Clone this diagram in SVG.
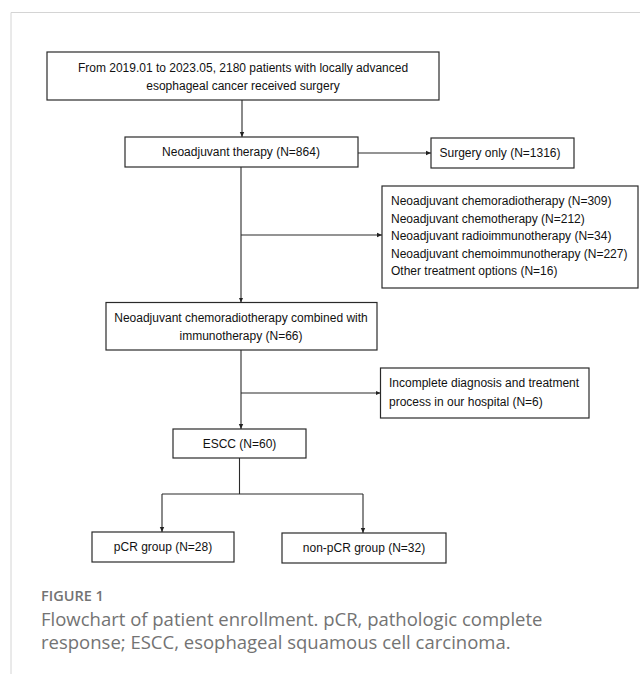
<svg xmlns="http://www.w3.org/2000/svg" width="640" height="674" viewBox="0 0 640 674">
<defs>
<marker id="ah" markerWidth="6" markerHeight="6" refX="5" refY="3" orient="auto" markerUnits="userSpaceOnUse">
<path d="M0,0.8 L5,3 L0,5.2 Z" fill="#222"/>
</marker>
<style>
.box{fill:#fff;stroke:#2a2a2a;stroke-width:1.2}
.t{font-family:"Liberation Sans",Arial,sans-serif;font-size:12px;fill:#111}
.c{text-anchor:middle}
.ln{stroke:#2a2a2a;stroke-width:1.1;fill:none}
.cap{font-family:"Open Sans",sans-serif;fill:#737373}
</style>
</defs>
<rect width="640" height="674" fill="#fff"/>
<path d="M11,674 V12.5 H640" fill="none" stroke="#d4d4d4" stroke-width="1"/>
<g id="connectors">
<line class="ln" x1="242" y1="100" x2="242" y2="137" marker-end="url(#ah)"/>
<line class="ln" x1="358" y1="153" x2="431" y2="153" marker-end="url(#ah)"/>
<line class="ln" x1="241" y1="167" x2="241" y2="302.5" marker-end="url(#ah)"/>
<line class="ln" x1="241" y1="235" x2="382" y2="235" marker-end="url(#ah)"/>
<line class="ln" x1="241" y1="350" x2="241" y2="429" marker-end="url(#ah)"/>
<line class="ln" x1="241" y1="393" x2="380.5" y2="393" marker-end="url(#ah)"/>
<path class="ln" d="M239.5,458 V494 M162,494 H363"/>
<line class="ln" x1="162" y1="494" x2="162" y2="532" marker-end="url(#ah)"/>
<line class="ln" x1="363" y1="494" x2="363" y2="533" marker-end="url(#ah)"/>
</g>
<g id="n1"><rect class="box" x="47" y="52" width="392" height="48"/>
<text class="t c" x="243" y="71.5">From 2019.01 to 2023.05, 2180 patients with locally advanced</text>
<text class="t c" x="243" y="90">esophageal cancer received surgery</text></g>
<g id="n2"><rect class="box" x="125" y="137" width="233" height="30"/>
<text class="t c" x="241" y="156.3">Neoadjuvant therapy (N=864)</text></g>
<g id="n3"><rect class="box" x="431" y="138" width="143" height="30"/>
<text class="t c" x="500" y="157.3">Surgery only (N=1316)</text></g>
<g id="n4"><rect class="box" x="382" y="186" width="256" height="102"/>
<text class="t" x="391" y="205.3">Neoadjuvant chemoradiotherapy (N=309)</text>
<text class="t" x="391" y="222.8">Neoadjuvant chemotherapy (N=212)</text>
<text class="t" x="391" y="240.3">Neoadjuvant radioimmunotherapy (N=34)</text>
<text class="t" x="391" y="257.8">Neoadjuvant chemoimmunotherapy (N=227)</text>
<text class="t" x="391" y="275.3">Other treatment options (N=16)</text></g>
<g id="n5"><rect class="box" x="106" y="302.5" width="271" height="47.5"/>
<text class="t c" x="241" y="322.3">Neoadjuvant chemoradiotherapy combined with</text>
<text class="t c" x="241" y="339.5">immunotherapy (N=66)</text></g>
<g id="n6"><rect class="box" x="380.5" y="368" width="208.5" height="50"/>
<text class="t" x="389" y="386.5">Incomplete diagnosis and treatment</text>
<text class="t" x="389" y="405.5">process in our hospital (N=6)</text></g>
<g id="n7"><rect class="box" x="173" y="429" width="133" height="29"/>
<text class="t c" x="239.5" y="447.8">ESCC (N=60)</text></g>
<g id="n8"><rect class="box" x="92" y="532" width="142" height="30"/>
<text class="t c" x="163" y="551.3">pCR group (N=28)</text></g>
<g id="n9"><rect class="box" x="282" y="533" width="164" height="30"/>
<text class="t c" x="364" y="552.3">non-pCR group (N=32)</text></g>
<text class="cap" x="41" y="601" font-size="14.5" font-weight="600" fill="#7a7a7a">FIGURE 1</text>
<text class="cap" x="41" y="626" font-size="18.5">Flowchart of patient enrollment. pCR, pathologic complete</text>
<text class="cap" x="41" y="649" font-size="18.5">response; ESCC, esophageal squamous cell carcinoma.</text>
</svg>
